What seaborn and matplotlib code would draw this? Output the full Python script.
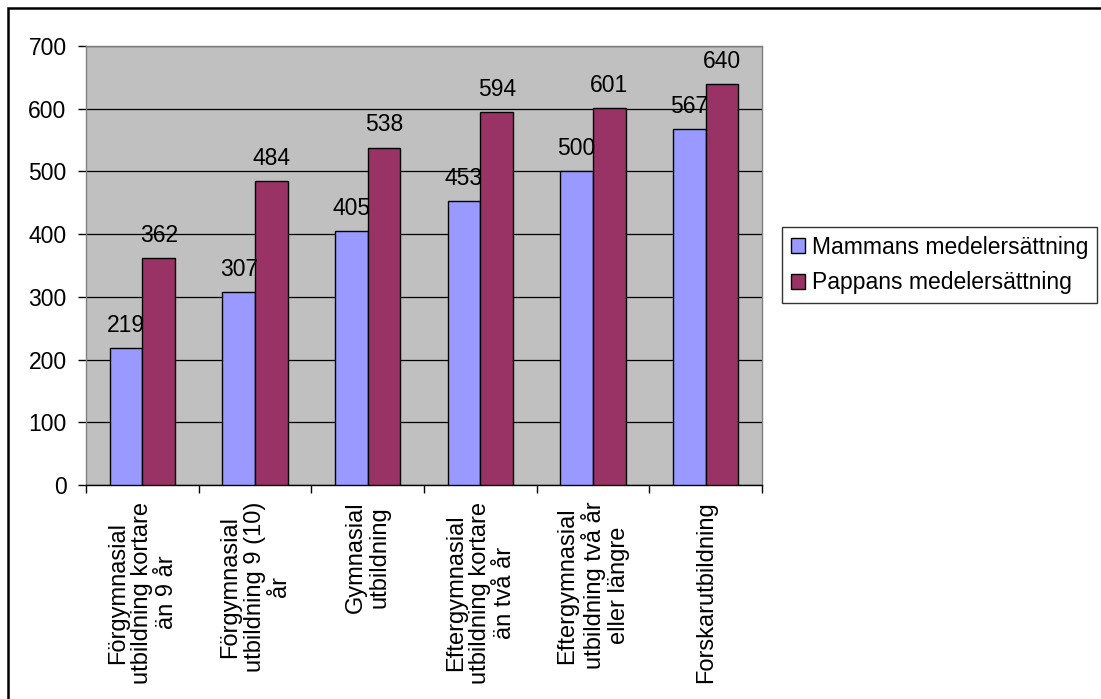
import matplotlib
matplotlib.use("Agg")
import matplotlib.pyplot as plt
from matplotlib.patches import Rectangle
import seaborn as sns
import pandas as pd

# Data
categories = [
    "Förgymnasial\nutbildning kortare\nän 9 år",
    "Förgymnasial\nutbildning 9 (10)\når",
    "Gymnasial\nutbildning",
    "Eftergymnasial\nutbildning kortare\nän två år",
    "Eftergymnasial\nutbildning två år\neller längre",
    "Forskarutbildning",
]
series_names = ["Mammans medelersättning", "Pappans medelersättning"]
mammans = [219, 307, 405, 453, 500, 567]
pappans = [362, 484, 538, 594, 601, 640]
y_ticks = [0, 100, 200, 300, 400, 500, 600, 700]

colors = ["#9999FF", "#993366"]

plt.rcParams['font.family'] = ['Liberation Sans', 'DejaVu Sans']

df = pd.DataFrame({
    "utbildning": categories * 2,
    "serie": [series_names[0]] * len(categories) + [series_names[1]] * len(categories),
    "value": mammans + pappans,
})

fig = plt.figure(figsize=(11.01, 6.99), dpi=100)
ax = fig.add_axes([86 / 1101, 1 - 485 / 699, (762 - 86) / 1101, (485 - 46) / 699])
ax.set_facecolor("#C0C0C0")

sns.barplot(data=df, x="utbildning", y="value", hue="serie", palette=colors,
            saturation=1, width=0.58, edgecolor="black", linewidth=1, ax=ax, zorder=3)

# value labels above bars
for cont in ax.containers:
    ax.bar_label(cont, padding=8, fontsize=16.5, color="black")

ax.set_ylim(0, 700)
ax.set_yticks(y_ticks)
ax.set_xlim(-0.5, len(categories) - 0.5)
ax.grid(axis="y", color="black", linewidth=0.9, zorder=1)
ax.set_axisbelow(True)
ax.set_xlabel("")
ax.set_ylabel("")

# tick marks between categories, labels at centers
ax.set_xticks(range(len(categories)))
ax.set_xticklabels(categories, rotation=90, fontsize=17, ha="center", va="top",
                   multialignment="center", linespacing=1.15)
ax.tick_params(axis="x", length=0, pad=12)
ax.set_xticks([i - 0.5 for i in range(len(categories) + 1)], minor=True)
ax.tick_params(axis="x", which="minor", length=6, width=1, color="black", direction="out")
ax.tick_params(axis="y", length=6, width=1, color="black", direction="out", labelsize=16.5, pad=8)

for side in ["top", "right", "left"]:
    ax.spines[side].set_color("#808080")
    ax.spines[side].set_linewidth(1)
ax.spines["bottom"].set_color("black")
ax.spines["bottom"].set_linewidth(1)

ax.legend_.remove()
handles = [Rectangle((0, 0), 1, 1, facecolor=c, edgecolor="black", linewidth=1) for c in colors]
leg = fig.legend(handles, series_names, loc="center left",
                 bbox_to_anchor=(782 / 1101, 1 - 265 / 699), fontsize=16.5,
                 frameon=True, fancybox=False, edgecolor="black",
                 handlelength=0.6, handleheight=0.6, handletextpad=0.3,
                 labelspacing=0.55, borderpad=0.4, borderaxespad=0)
leg.get_frame().set_linewidth(1)

# outer chart border (only top and left edges fall inside the image)
fig.patches.append(Rectangle((8 / 1101, -0.1), 1.2, 1.1 - 8 / 699,
                             transform=fig.transFigure, fill=False,
                             edgecolor="black", linewidth=1.8))

fig.savefig("out.png", dpi=100)
